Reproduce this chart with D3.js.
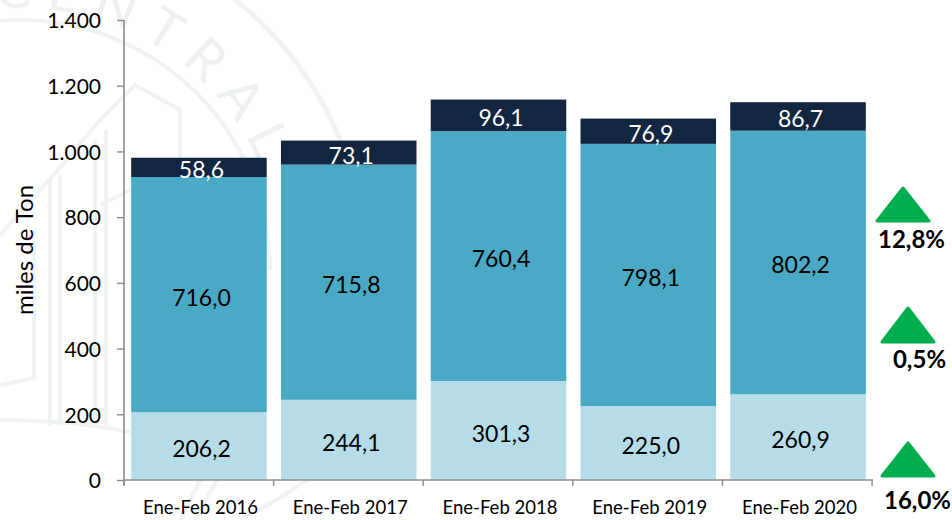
<!DOCTYPE html>
<html><head><meta charset="utf-8">
<script src="https://cdn.jsdelivr.net/npm/d3@7/dist/d3.min.js"></script>
<style>html,body{margin:0;padding:0;background:#fff}svg{display:block;font-family:Lato,"Open Sans",sans-serif}</style>
</head><body><svg id="c" width="952" height="520"></svg>
<script>
const categories=["Ene-Feb 2016","Ene-Feb 2017","Ene-Feb 2018","Ene-Feb 2019","Ene-Feb 2020"];
const seriesBottom=[206.2,244.1,301.3,225.0,260.9];
const seriesMiddle=[716.0,715.8,760.4,798.1,802.2];
const seriesTop=[58.6,73.1,96.1,76.9,86.7];
const yTicks=[0,200,400,600,800,1000,1200,1400];
const changes=["16,0%","0,5%","12,8%"];
const colors=["#b6dce8","#4aaac6","#12263f"];
const labelColors=["#000","#000","#fff"];

const svg=d3.select("#c");
const y=d3.scaleLinear().domain([0,1400]).range([480,20]);
const x=d3.scaleBand().domain(categories).range([124,873]).paddingInner(0.095).paddingOuter(0.048);

// faint institutional seal behind the chart
const wm=svg.append("g").attr("fill","none").attr("stroke","#f0f3f3");
const cx=20,cy=270;
const ring=d3.arc().startAngle(-Math.PI/2).endAngle(Math.PI/2);
wm.append("path").attr("transform",`translate(${cx},${cy})`).attr("d",ring({innerRadius:343,outerRadius:348})).attr("fill","#f0f3f3").attr("stroke","none");
wm.append("path").attr("transform",`translate(${cx},${cy})`).attr("d",ring({innerRadius:248,outerRadius:252})).attr("fill","#f0f3f3").attr("stroke","none");
wm.append("path").attr("d","M0,235 L58,170 L100,120 L135,85 L180,110 L180,165 L100,205 M50,180 L50,425 M60,175 L60,425 M95,140 L95,425 M106,130 L106,425 M0,385 L34,378 L34,230 M0,420 Q70,420 130,432").attr("stroke-width",4);
wm.append("path").attr("d","M180,520 L205,470 M195,520 L230,455 M240,520 Q300,490 345,450").attr("stroke-width",4);
svg.append("defs").append("path").attr("id","arcT").attr("d",`M${cx-262},${cy} A262,262 0 0 1 ${cx+262},${cy}`);
svg.append("text").attr("fill","#eef1f1").attr("font-size",54).attr("font-weight",400).attr("letter-spacing",14)
  .append("textPath").attr("href","#arcT").attr("startOffset","47%").text("CENTRAL");

// stacked bars
const rows=categories.map((c,i)=>({c,a:seriesBottom[i],b:seriesMiddle[i],t:seriesTop[i]}));
const stack=d3.stack().keys(["a","b","t"])(rows);
const layers=svg.selectAll("g.layer").data(stack).join("g").attr("class","layer");
layers.each(function(s,k){
  d3.select(this).selectAll("rect").data(s).join("rect")
    .attr("x",d=>x(d.data.c)).attr("width",x.bandwidth())
    .attr("y",d=>y(d[1])).attr("height",d=>y(d[0])-y(d[1]))
    .attr("fill",colors[k]);
});
layers.each(function(s,k){
  d3.select(this).selectAll("text").data(s).join("text")
    .attr("x",d=>x(d.data.c)+x.bandwidth()/2+2.5)
    .attr("y",d=>(y(d[0])+y(d[1]))/2+11)
    .attr("text-anchor","middle").attr("font-size",23).attr("fill",labelColors[k])
    .text(d=>(d[1]-d[0]).toFixed(1).replace(".",","));
});

// y axis
const gy=svg.append("g").attr("transform","translate(124,0)")
  .call(d3.axisLeft(y).tickValues(yTicks).tickSize(7).tickPadding(16)
    .tickFormat(d=>d3.format(",")(d).replace(",",".")));
gy.select(".domain").attr("stroke","#8c8c8c").attr("stroke-width",1.6).attr("d","M0,20V485");
gy.selectAll(".tick line").attr("stroke","#8c8c8c").attr("stroke-width",1.4);
gy.selectAll("text").attr("font-size",21).attr("font-family","Lato").attr("fill","#000").attr("y",1);

// x axis
const step=x.step();
const edges=[0,1,2,3,4,5].map(i=>124+i*step*0.999);
const gx=svg.append("g");
gx.append("line").attr("x1",124).attr("x2",873).attr("y1",480).attr("y2",480).attr("stroke","#8c8c8c").attr("stroke-width",1.4);
gx.selectAll("line.t").data(edges).join("line").attr("class","t").attr("x1",d=>d).attr("x2",d=>d).attr("y1",480).attr("y2",486).attr("stroke","#8c8c8c").attr("stroke-width",1.4);
gx.selectAll("text").data(categories).join("text")
  .attr("x",d=>x(d)+x.bandwidth()/2+1.5).attr("y",514).attr("text-anchor","middle")
  .attr("font-size",18.5).attr("fill","#000").text(d=>d);

svg.append("text").attr("transform","translate(33,250) rotate(-90)").attr("text-anchor","middle")
  .attr("font-size",24).attr("fill","#000").text("miles de Ton");

// change indicators
const tri=[[908,442,476,26],[908,307,342,26],[903,187,221,26]];
const pct=[[917.5,509],[919.5,368],[911.5,248]];
changes.forEach((t,i)=>{
  const [ax,top,base,hw]=tri[i];
  svg.append("path").attr("d",`M${ax},${top+1}L${ax+hw},${base}L${ax-hw},${base}Z`)
    .attr("fill","#00ae4f").attr("stroke","#00ae4f").attr("stroke-width",3).attr("stroke-linejoin","round");
  svg.append("text").attr("x",pct[i][0]).attr("y",pct[i][1]).attr("text-anchor","middle")
    .attr("font-size",24).attr("font-weight",700).attr("fill","#000").text(t);
});
</script></body></html>
